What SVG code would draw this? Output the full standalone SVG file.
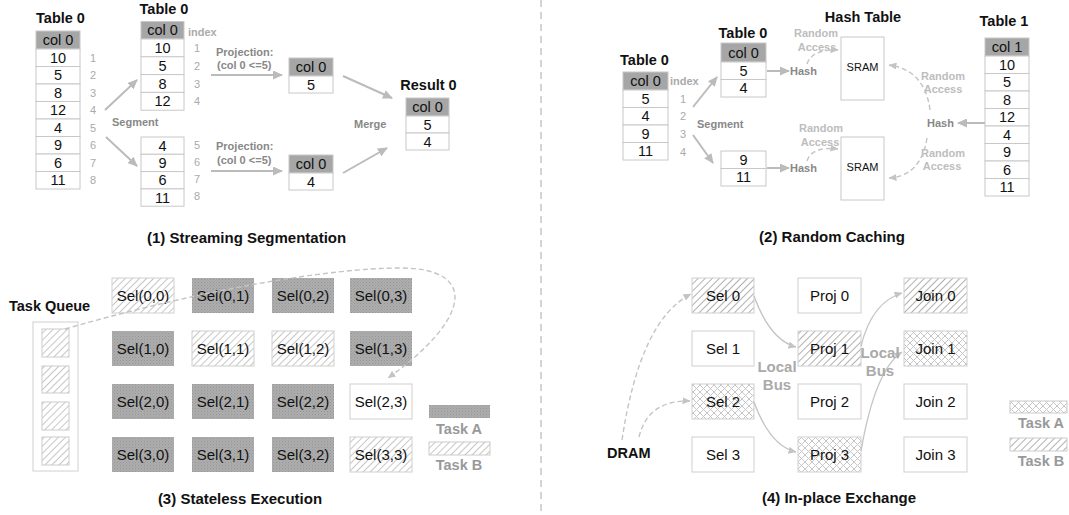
<svg xmlns="http://www.w3.org/2000/svg" width="1069" height="515" viewBox="0 0 1069 515">
<style>
text{font-family:"Liberation Sans",Arial,sans-serif;dominant-baseline:central}
.cell{fill:#fff;stroke:#c8c8c8;stroke-width:1}
.hdr{fill:#a6a6a6;stroke:#c8c8c8;stroke-width:1}
.ct{font-size:14.5px;text-anchor:middle;fill:#111}
.ttl{font-size:14.5px;font-weight:bold;text-anchor:middle;fill:#111}
.idx{font-size:11px;fill:#aaa;text-anchor:middle}
.lbl{font-size:11px;font-weight:bold;fill:#888}
.lbl2{font-size:11px;font-weight:bold;fill:#bdbdbd;text-anchor:middle}
.cap{font-size:15px;font-weight:bold;fill:#111}
.leg{font-size:14.5px;font-weight:bold;fill:#999;text-anchor:middle}
.bus{font-size:15px;font-weight:bold;fill:#aaa;text-anchor:middle}
.sel{font-size:15px;text-anchor:middle;fill:#111}
.box{stroke:#cfcfcf;stroke-width:1}
.arr{fill:none;stroke:#bbb;stroke-width:2;marker-end:url(#ah)}
.dash{fill:none;stroke:#c4c4c4;stroke-width:1.4;stroke-dasharray:5 3;marker-end:url(#ahs)}
.thin{fill:none;stroke:#c4c4c4;stroke-width:1.3;marker-end:url(#ahs)}
</style>
<defs>
<marker id="ah" markerUnits="userSpaceOnUse" markerWidth="10" markerHeight="9" refX="9" refY="4.5" orient="auto"><path d="M0,0 L10,4.5 L0,9 z" fill="#bbb"/></marker>
<marker id="ahs" markerUnits="userSpaceOnUse" markerWidth="8" markerHeight="7" refX="7.5" refY="3.5" orient="auto"><path d="M0,0 L8,3.5 L0,7 z" fill="#c4c4c4"/></marker>
<pattern id="pA" patternUnits="userSpaceOnUse" width="3" height="3"><rect width="3" height="3" fill="#adadad"/><rect width="1" height="1" fill="#959595"/><rect x="1.5" y="1.5" width="1" height="1" fill="#9c9c9c"/></pattern>
<pattern id="pB" patternUnits="userSpaceOnUse" width="5" height="5" patternTransform="rotate(45)"><rect width="5" height="5" fill="#fff"/><line x1="0" y1="0" x2="0" y2="5" stroke="#b8b8b8" stroke-width="1.6"/></pattern>
<pattern id="pD" patternUnits="userSpaceOnUse" width="5" height="5" patternTransform="rotate(45)"><rect width="5" height="5" fill="#fff"/><line x1="0" y1="0" x2="0" y2="5" stroke="#8e8e8e" stroke-width="1.4"/></pattern>
<pattern id="pX" patternUnits="userSpaceOnUse" width="7" height="7"><rect width="7" height="7" fill="#fff"/><path d="M0,0 L7,7 M7,0 L0,7" stroke="#c6c6c6" stroke-width="1"/></pattern>
</defs>
<rect width="1069" height="515" fill="#fff"/>
<line x1="541" y1="0" x2="541" y2="515" stroke="#aaa" stroke-width="1" stroke-dasharray="7 5"/>

<!-- Panel 1 -->
<g id="p1-table0">
<text class="ttl" x="60.5" y="17.5">Table 0</text>
<rect class="hdr" x="36" y="31" width="44" height="18"/><text class="ct" x="58" y="40">col 0</text>
<rect class="cell" x="36" y="49" width="44" height="17.5"/><text class="ct" x="58" y="57.8">10</text>
<rect class="cell" x="36" y="66.5" width="44" height="17.5"/><text class="ct" x="58" y="75.3">5</text>
<rect class="cell" x="36" y="84" width="44" height="17.5"/><text class="ct" x="58" y="92.8">8</text>
<rect class="cell" x="36" y="101.5" width="44" height="17.5"/><text class="ct" x="58" y="110.3">12</text>
<rect class="cell" x="36" y="119" width="44" height="17.5"/><text class="ct" x="58" y="127.8">4</text>
<rect class="cell" x="36" y="136.5" width="44" height="17.5"/><text class="ct" x="58" y="145.3">9</text>
<rect class="cell" x="36" y="154" width="44" height="17.5"/><text class="ct" x="58" y="162.8">6</text>
<rect class="cell" x="36" y="171.5" width="44" height="17.5"/><text class="ct" x="58" y="180.3">11</text>
<text class="idx" x="93" y="57.8">1</text><text class="idx" x="93" y="75.3">2</text><text class="idx" x="93" y="92.8">3</text><text class="idx" x="93" y="110.3">4</text>
<text class="idx" x="93" y="127.8">5</text><text class="idx" x="93" y="145.3">6</text><text class="idx" x="93" y="162.8">7</text><text class="idx" x="93" y="180.3">8</text>
</g>
<g id="p1-seg-top">
<text class="ttl" x="164" y="8.5">Table 0</text>
<rect class="hdr" x="141" y="21.5" width="43" height="17.5"/><text class="ct" x="162.5" y="30.3">col 0</text>
<rect class="cell" x="141" y="39" width="43" height="17.8"/><text class="ct" x="162.5" y="47.9">10</text>
<rect class="cell" x="141" y="56.8" width="43" height="17.8"/><text class="ct" x="162.5" y="65.7">5</text>
<rect class="cell" x="141" y="74.6" width="43" height="17.8"/><text class="ct" x="162.5" y="83.5">8</text>
<rect class="cell" x="141" y="92.4" width="43" height="17.8"/><text class="ct" x="162.5" y="101.3">12</text>
<text class="lbl" x="188" y="32" style="fill:#aaa">index</text>
<text class="idx" x="197" y="47.9">1</text><text class="idx" x="197" y="65.7">2</text><text class="idx" x="197" y="83.5">3</text><text class="idx" x="197" y="101.3">4</text>
</g>
<g id="p1-seg-bottom">
<rect class="cell" x="141" y="137" width="43" height="17.3"/><text class="ct" x="162.5" y="145.7">4</text>
<rect class="cell" x="141" y="154.3" width="43" height="17.3"/><text class="ct" x="162.5" y="163">9</text>
<rect class="cell" x="141" y="171.6" width="43" height="17.3"/><text class="ct" x="162.5" y="180.3">6</text>
<rect class="cell" x="141" y="188.9" width="43" height="17.3"/><text class="ct" x="162.5" y="197.6">11</text>
<text class="idx" x="197" y="145">5</text><text class="idx" x="197" y="162">6</text><text class="idx" x="197" y="179">7</text><text class="idx" x="197" y="196">8</text>
</g>
<g id="p1-proj-top">
<rect class="hdr" x="289" y="58" width="44" height="18"/><text class="ct" x="311" y="67">col 0</text>
<rect class="cell" x="289" y="76" width="44" height="17"/><text class="ct" x="311" y="84.5">5</text>
</g>
<g id="p1-proj-bottom">
<rect class="hdr" x="289" y="155" width="44" height="18"/><text class="ct" x="311" y="164">col 0</text>
<rect class="cell" x="289" y="173" width="44" height="17"/><text class="ct" x="311" y="181.5">4</text>
</g>
<g id="p1-result">
<text class="ttl" x="428.5" y="85">Result 0</text>
<rect class="hdr" x="406" y="98" width="43" height="18"/><text class="ct" x="427.5" y="107">col 0</text>
<rect class="cell" x="406" y="116" width="43" height="17"/><text class="ct" x="427.5" y="124.5">5</text>
<rect class="cell" x="406" y="133" width="43" height="17"/><text class="ct" x="427.5" y="141.5">4</text>
</g>
<g id="p1-labels">
<text class="lbl" x="112" y="122">Segment</text>
<text class="lbl" x="216" y="52">Projection:</text>
<text class="lbl" x="217" y="65">(col 0 &lt;=5)</text>
<text class="lbl" x="216" y="146">Projection:</text>
<text class="lbl" x="217" y="160">(col 0 &lt;=5)</text>
<text class="lbl" x="354" y="124">Merge</text>
<text class="cap" x="147" y="237">(1) Streaming Segmentation</text>
</g>

<!-- Panel 2 -->
<g id="p2-table0">
<text class="ttl" x="644.5" y="60">Table 0</text>
<rect class="hdr" x="623" y="72" width="45" height="18"/><text class="ct" x="645.5" y="81">col 0</text>
<rect class="cell" x="623" y="90" width="45" height="17.5"/><text class="ct" x="645.5" y="98.8">5</text>
<rect class="cell" x="623" y="107.5" width="45" height="17.5"/><text class="ct" x="645.5" y="116.3">4</text>
<rect class="cell" x="623" y="125" width="45" height="17.5"/><text class="ct" x="645.5" y="133.8">9</text>
<rect class="cell" x="623" y="142.5" width="45" height="17.5"/><text class="ct" x="645.5" y="151.3">11</text>
<text class="lbl" x="670" y="81" style="fill:#aaa">index</text>
<text class="idx" x="683" y="98.8">1</text><text class="idx" x="683" y="116.3">2</text><text class="idx" x="683" y="134">3</text><text class="idx" x="683" y="152">4</text>
</g>
<g id="p2-seg-top">
<text class="ttl" x="743" y="33">Table 0</text>
<rect class="hdr" x="721" y="43" width="45" height="19"/><text class="ct" x="743.5" y="52.5">col 0</text>
<rect class="cell" x="721" y="62" width="45" height="17.5"/><text class="ct" x="743.5" y="70.8">5</text>
<rect class="cell" x="721" y="79.5" width="45" height="17.5"/><text class="ct" x="743.5" y="88.3">4</text>
</g>
<g id="p2-seg-bottom">
<rect class="cell" x="721" y="151" width="45" height="17.5"/><text class="ct" x="743.5" y="159.8">9</text>
<rect class="cell" x="721" y="168.5" width="45" height="17.5"/><text class="ct" x="743.5" y="177.3">11</text>
</g>
<g id="p2-hashtable">
<text class="ttl" x="863" y="17">Hash Table</text>
<rect class="cell" x="841" y="37" width="43" height="63"/><text x="862.5" y="67" style="font-size:11px;text-anchor:middle;fill:#111">SRAM</text>
<rect class="cell" x="841" y="137" width="43" height="63"/><text x="862.5" y="167" style="font-size:11px;text-anchor:middle;fill:#111">SRAM</text>
</g>
<g id="p2-table1">
<text class="ttl" x="1004" y="21">Table 1</text>
<rect class="hdr" x="985" y="38" width="44" height="18"/><text class="ct" x="1007" y="47">col 1</text>
<rect class="cell" x="985" y="56" width="44" height="17.5"/><text class="ct" x="1007" y="64.8">10</text>
<rect class="cell" x="985" y="73.5" width="44" height="17.5"/><text class="ct" x="1007" y="82.3">5</text>
<rect class="cell" x="985" y="91" width="44" height="17.5"/><text class="ct" x="1007" y="99.8">8</text>
<rect class="cell" x="985" y="108.5" width="44" height="17.5"/><text class="ct" x="1007" y="117.3">12</text>
<rect class="cell" x="985" y="126" width="44" height="17.5"/><text class="ct" x="1007" y="134.8">4</text>
<rect class="cell" x="985" y="143.5" width="44" height="17.5"/><text class="ct" x="1007" y="152.3">9</text>
<rect class="cell" x="985" y="161" width="44" height="17.5"/><text class="ct" x="1007" y="169.8">6</text>
<rect class="cell" x="985" y="178.5" width="44" height="17.5"/><text class="ct" x="1007" y="187.3">11</text>
</g>
<g id="p2-labels">
<text class="lbl" x="697" y="124">Segment</text>
<text class="lbl" x="790" y="71">Hash</text>
<text class="lbl" x="790" y="168">Hash</text>
<text class="lbl" x="927" y="123">Hash</text>
<text class="lbl2" x="816" y="33">Random</text><text class="lbl2" x="817" y="47">Access</text>
<text class="lbl2" x="821" y="128">Random</text><text class="lbl2" x="820" y="142">Access</text>
<text class="lbl2" x="943" y="76">Random</text><text class="lbl2" x="943" y="89">Access</text>
<text class="lbl2" x="943" y="153">Random</text><text class="lbl2" x="942" y="166">Access</text>
<text class="cap" x="832" y="236" text-anchor="middle">(2) Random Caching</text>
</g>

<!-- Panel 3 -->
<g id="p3-queue">
<text x="9" y="306" style="font-size:14.5px;font-weight:bold;fill:#111">Task Queue</text>
<rect x="33" y="322" width="45" height="149" fill="#fff" stroke="#d0d0d0"/>
<rect x="42" y="329" width="27" height="28" fill="url(#pB)" stroke="#ccc"/>
<rect x="42" y="366" width="27" height="27" fill="url(#pB)" stroke="#ccc"/>
<rect x="42" y="402" width="27" height="28" fill="url(#pB)" stroke="#ccc"/>
<rect x="42" y="437" width="27" height="28" fill="url(#pB)" stroke="#ccc"/>
</g>
<g id="sel00"><rect class="box" x="112" y="278" width="62" height="35" fill="url(#pB)"/><text class="sel" x="143" y="295.5">Sel(0,0)</text></g>
<g id="sel01"><rect x="192" y="278" width="62" height="35" fill="url(#pA)"/><text class="sel" x="223" y="295.5">Sel(0,1)</text></g>
<g id="sel02"><rect x="272" y="278" width="62" height="35" fill="url(#pA)"/><text class="sel" x="303" y="295.5">Sel(0,2)</text></g>
<g id="sel03"><rect x="350" y="278" width="62" height="35" fill="url(#pA)"/><text class="sel" x="381" y="295.5">Sel(0,3)</text></g>
<g id="sel10"><rect x="112" y="331" width="62" height="35" fill="url(#pA)"/><text class="sel" x="143" y="348.5">Sel(1,0)</text></g>
<g id="sel11"><rect class="box" x="192" y="331" width="62" height="35" fill="url(#pB)"/><text class="sel" x="223" y="348.5">Sel(1,1)</text></g>
<g id="sel12"><rect class="box" x="272" y="331" width="62" height="35" fill="url(#pB)"/><text class="sel" x="303" y="348.5">Sel(1,2)</text></g>
<g id="sel13"><rect x="350" y="331" width="62" height="35" fill="url(#pA)"/><text class="sel" x="381" y="348.5">Sel(1,3)</text></g>
<g id="sel20"><rect x="112" y="384" width="62" height="35" fill="url(#pA)"/><text class="sel" x="143" y="401.5">Sel(2,0)</text></g>
<g id="sel21"><rect x="192" y="384" width="62" height="35" fill="url(#pA)"/><text class="sel" x="223" y="401.5">Sel(2,1)</text></g>
<g id="sel22"><rect x="272" y="384" width="62" height="35" fill="url(#pA)"/><text class="sel" x="303" y="401.5">Sel(2,2)</text></g>
<g id="sel23"><rect class="box" x="350" y="384" width="62" height="35" fill="#fff"/><text class="sel" x="381" y="401.5">Sel(2,3)</text></g>
<g id="sel30"><rect x="112" y="437" width="62" height="35" fill="url(#pA)"/><text class="sel" x="143" y="454.5">Sel(3,0)</text></g>
<g id="sel31"><rect x="192" y="437" width="62" height="35" fill="url(#pA)"/><text class="sel" x="223" y="454.5">Sel(3,1)</text></g>
<g id="sel32"><rect x="272" y="437" width="62" height="35" fill="url(#pA)"/><text class="sel" x="303" y="454.5">Sel(3,2)</text></g>
<g id="sel33"><rect class="box" x="350" y="437" width="62" height="35" fill="url(#pB)"/><text class="sel" x="381" y="454.5">Sel(3,3)</text></g>
<g id="p3-legend">
<rect x="429" y="405" width="61" height="13" fill="url(#pA)"/>
<text class="leg" x="459" y="429">Task A</text>
<rect x="429" y="442" width="61" height="13" fill="url(#pB)" stroke="#ccc"/>
<text class="leg" x="459" y="465">Task B</text>
<text class="cap" x="240" y="498" text-anchor="middle">(3) Stateless Execution</text>
</g>

<!-- Panel 4 -->
<g id="dram"><text x="607" y="453" style="font-size:14.5px;font-weight:bold;fill:#111">DRAM</text></g>
<g id="s0"><rect class="box" x="692" y="278" width="62" height="35" fill="url(#pD)"/><text class="sel" x="723" y="295.5">Sel 0</text></g>
<g id="s1"><rect class="box" x="692" y="331" width="62" height="35" fill="#fff"/><text class="sel" x="723" y="348.5">Sel 1</text></g>
<g id="s2"><rect class="box" x="692" y="384" width="62" height="35" fill="url(#pX)"/><text class="sel" x="723" y="401.5">Sel 2</text></g>
<g id="s3"><rect class="box" x="692" y="437" width="62" height="35" fill="#fff"/><text class="sel" x="723" y="454.5">Sel 3</text></g>
<g id="pr0"><rect class="box" x="798" y="278" width="63" height="35" fill="#fff"/><text class="sel" x="829.5" y="295.5">Proj 0</text></g>
<g id="pr1"><rect class="box" x="798" y="331" width="63" height="35" fill="url(#pD)"/><text class="sel" x="829.5" y="348.5">Proj 1</text></g>
<g id="pr2"><rect class="box" x="798" y="384" width="63" height="35" fill="#fff"/><text class="sel" x="829.5" y="401.5">Proj 2</text></g>
<g id="pr3"><rect class="box" x="798" y="437" width="63" height="35" fill="url(#pX)"/><text class="sel" x="829.5" y="454.5">Proj 3</text></g>
<g id="j0"><rect class="box" x="904" y="278" width="63" height="35" fill="url(#pD)"/><text class="sel" x="935.5" y="295.5">Join 0</text></g>
<g id="j1"><rect class="box" x="904" y="331" width="63" height="35" fill="url(#pX)"/><text class="sel" x="935.5" y="348.5">Join 1</text></g>
<g id="j2"><rect class="box" x="904" y="384" width="63" height="35" fill="#fff"/><text class="sel" x="935.5" y="401.5">Join 2</text></g>
<g id="j3"><rect class="box" x="904" y="437" width="63" height="35" fill="#fff"/><text class="sel" x="935.5" y="454.5">Join 3</text></g>
<g id="p4-legend">
<rect x="1010" y="401" width="57" height="12" fill="url(#pX)" stroke="#ccc"/>
<text class="leg" x="1041" y="423">Task A</text>
<rect x="1010" y="438" width="57" height="13" fill="url(#pD)" stroke="#ccc"/>
<text class="leg" x="1041" y="461">Task B</text>
<text class="cap" x="839" y="497" text-anchor="middle">(4) In-place Exchange</text>
</g>

<g id="connectors">
<path class="arr" d="M105 110 L137 80"/>
<path class="arr" d="M106 137 L137 166"/>
<path class="arr" d="M211 75 L282 75"/>
<path class="arr" d="M211 171 L282 171"/>
<path class="arr" d="M343 76 L392 98"/>
<path class="arr" d="M343 173 L387 148"/>
<path class="arr" d="M693 107 L717 77"/>
<path class="arr" d="M693 135 L713 163"/>
<path class="arr" d="M767 71 L789 71"/>
<path class="arr" d="M767 168 L789 168"/>
<path class="arr" d="M985 123 L958 123"/>
<path class="dash" d="M807 64 Q812 49 838 50"/>
<path class="dash" d="M807 161 Q812 146 838 149"/>
<path class="dash" d="M930 110 Q925 70 889 65"/>
<path class="dash" d="M927 138 Q921 176 889 178"/>
<path class="dash" d="M65 329 C200 290 330 268 400 268 C478 268 472 318 388 378"/>
<path class="thin" d="M754 296 Q770 340 796 347"/>
<path class="thin" d="M754 402 Q770 446 796 452"/>
<path class="thin" d="M861 346 Q872 302 902 293"/>
<path class="thin" d="M861 451 Q875 370 902 352"/>
<path class="dash" d="M622 440 Q640 320 691 294"/>
<path class="dash" d="M639 437 Q648 400 690 401"/>
</g>
<g id="bus-labels">
<text class="bus" x="777" y="366">Local</text><text class="bus" x="777" y="384">Bus</text>
<text class="bus" x="880" y="352">Local</text><text class="bus" x="880" y="370">Bus</text>
</g>
</svg>
